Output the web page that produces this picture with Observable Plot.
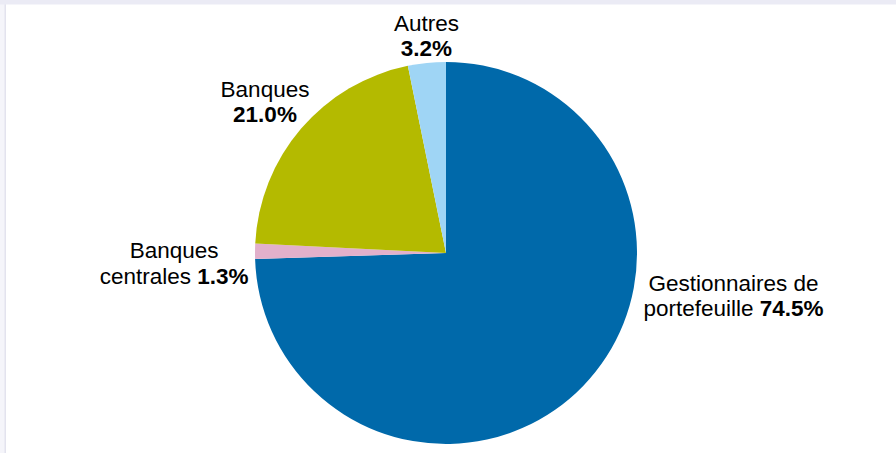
<!DOCTYPE html>
<html>
<head>
<meta charset="utf-8">
<script src="https://cdn.jsdelivr.net/npm/d3@7"></script>
<script src="https://cdn.jsdelivr.net/npm/@observablehq/plot@0.6"></script>
<style>
  body { margin: 0; background: #ffffff; }
  svg { display: block; }
</style>
</head>
<body>
<div id="chart"></div>
<script>
// ---- Data ----
const categories = ["Gestionnaires de portefeuille", "Banques centrales", "Banques", "Autres"];
const shares = [74.5, 1.3, 21.0, 3.2];
const valueLabels = ["74.5%", "1.3%", "21.0%", "3.2%"];
const labelLine1 = ["Gestionnaires de", "Banques", "Banques", "Autres"];
const labelLine2Prefix = ["portefeuille ", "centrales ", "", ""];

// ---- Styling / layout (not data) ----
const colors = ["#0069aa", "#e2b0cb", "#b4ba00", "#9fd5f5"];
const labelAngleOffset = [-36.63, -1.66, 0.08, 0.74]; // degrees from slice mid-angle
const labelDistance = [1.518, 1.424, 1.251, 1.167];   // in pie radii
const lineGap = 25.5;

const data = categories.map((c, i) => ({category: c, share: shares[i], i}));
const arcs = d3.pie().sort(null).value(d => d.share)(data);

const labels = arcs.map((a, i) => {
  const theta = (a.startAngle + a.endAngle) / 2 + labelAngleOffset[i] * Math.PI / 180;
  return {
    x: labelDistance[i] * Math.sin(theta),
    y: labelDistance[i] * Math.cos(theta),
    line1: labelLine1[i],
    prefix: labelLine2Prefix[i],
    value: valueLabels[i]
  };
});

const W = 896, H = 453;
const cx = 446, cy = 253, R = 191;

function decorations(index, scales, values, dims) {
  const g = d3.create("svg:g");
  g.append("rect").attr("x", 0).attr("y", 0).attr("width", 6).attr("height", dims.height).attr("fill", "#f5f5fa");
  g.append("rect").attr("x", 4.5).attr("y", 0).attr("width", 1.5).attr("height", dims.height).attr("fill", "#e3e3ee");
  g.append("rect").attr("x", 0).attr("y", 0).attr("width", dims.width).attr("height", 4.5).attr("fill", "#ebebf5");
  return g.node();
}

function pieMark(index, scales) {
  const x0 = scales.x(0), y0 = scales.y(0);
  const r = scales.x(1) - scales.x(0);
  const arc = d3.arc().innerRadius(0).outerRadius(r);
  const g = d3.create("svg:g").attr("transform", `translate(${x0},${y0})`);
  g.selectAll("path").data(arcs).join("path")
    .attr("d", arc)
    .attr("fill", (d, i) => colors[i]);
  return g.node();
}

function labelMark(index, scales) {
  const g = d3.create("svg:g")
    .attr("font-family", "'Liberation Sans', Arial, sans-serif")
    .attr("font-size", 22.5)
    .attr("fill", "#000")
    .attr("text-anchor", "middle");
  labels.forEach(l => {
    const px = scales.x(l.x), py = scales.y(l.y);
    g.append("text").attr("x", px).attr("y", py).text(l.line1);
    const t2 = g.append("text").attr("x", px).attr("y", py + lineGap);
    if (l.prefix) t2.append("tspan").text(l.prefix);
    t2.append("tspan").attr("font-weight", "bold").text(l.value);
  });
  return g.node();
}

const chart = Plot.plot({
  width: W,
  height: H,
  margin: 0,
  x: {domain: [-1, 1], range: [cx - R, cx + R], axis: null},
  y: {domain: [-1, 1], range: [cy + R, cy - R], axis: null},
  style: {background: "#ffffff", fontFamily: "'Liberation Sans', Arial, sans-serif"},
  marks: [
    decorations,
    Plot.dot(labels, {x: "x", y: "y", r: 1, fill: "none", stroke: "none"}),
    pieMark,
    labelMark
  ]
});

document.getElementById("chart").appendChild(chart);
</script>
</body>
</html>
